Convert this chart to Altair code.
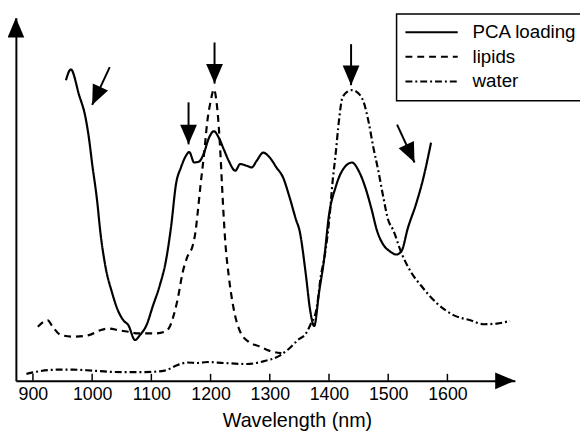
import altair as alt
import pandas as pd

# ---- data (wavelength in nm, intensity in arbitrary units) ----
series_names = ["PCA loading", "lipids", "water"]

pca_wl = [955.7, 964, 977.8, 989, 994.5, 1000, 1008.3, 1014, 1022.3, 1033.3, 1044.5, 1052.8,
          1061.2, 1072.3, 1080.7, 1091.7, 1102.8, 1114, 1125, 1133.3, 1141.7, 1150, 1158.3,
          1164, 1172.3, 1180.7, 1189, 1197.3, 1205.7, 1214, 1222.3, 1230.7, 1241.7, 1250,
          1261.2, 1269.5, 1277.8, 1289, 1300, 1311.2, 1322.3, 1333.3, 1344.5, 1350, 1361.2,
          1367.8, 1375, 1383.3, 1391.7, 1400, 1411.2, 1422.3, 1439, 1450, 1461.2, 1472.3,
          1480.7, 1491.7, 1502.8, 1514, 1522.3, 1533.3, 1547.3, 1558.3, 1572.3]
pca_val = [304.7, 315.7, 290, 266.3, 246.3, 220, 183, 150, 116.3, 90, 70, 61.3,
           56.3, 41.3, 46.3, 56.3, 76.3, 96.3, 123, 156.3, 199.7, 216.3, 228,
           232, 221.3, 222.3, 231.3, 246.3, 253, 246.3, 234.7, 223, 213, 219.7,
           218, 216.3, 223, 231.3, 226.3, 216.3, 206.3, 186.3, 163, 153, 106.3,
           73, 55.5, 90, 123, 168, 196.3, 213, 221.3, 213, 196.3, 173,
           153, 138, 131.3, 128, 131.3, 155, 179.7, 203, 241.3]

lipid_wl = [908.3, 925, 933.3, 947.3, 969.5, 994.5, 1014, 1027.8, 1044.5, 1061.2, 1077.8,
            1105.7, 1122.3, 1131.2, 1136, 1144.5, 1152.8, 1161.2, 1169.5, 1175, 1177.8,
            1183.3, 1189, 1194.5, 1200, 1205.7, 1210, 1214, 1216.7, 1219.5, 1222, 1225,
            1230.7, 1239, 1250, 1264, 1283.3, 1300, 1319.5]
lipid_val = [54.7, 61.3, 54.7, 46.3, 44.7, 46.3, 51.3, 53, 51.3, 49.7, 48,
             48, 49.7, 55, 63, 83, 109.7, 126.3, 136.3, 153, 168,
             199.7, 229.7, 263, 283, 295.5, 283, 256.3, 229.7, 196.3, 168, 139.7,
             106.3, 73, 49.7, 39.7, 34.7, 30.3, 28]

water_wl = [889, 911.2, 944.5, 966.7, 1000, 1033.3, 1066.7, 1100, 1122.3, 1144.5, 1161.2,
            1177.8, 1194.5, 1222.3, 1261.2, 1289, 1316.7, 1333.3, 1347.3, 1361.2, 1369.5,
            1377.8, 1380.7, 1386.2, 1391.7, 1397.3, 1401.2, 1405.7, 1411.2, 1416.7, 1422.3,
            1430.7, 1439, 1450, 1458.3, 1466.7, 1475, 1483.3, 1491.7, 1500, 1508.3, 1522.3,
            1539, 1555.7, 1583.3, 1611.2, 1639, 1661.2, 1683.3, 1705.7]
water_val = [7, 9.7, 11.3, 11.3, 10.3, 9, 8.7, 9, 10.3, 16, 18.5,
             18, 19, 18, 17, 19.7, 25.5, 33, 41.3, 48, 58,
             69.7, 79.7, 106.3, 123, 146.3, 168, 199.7, 229.7, 263, 286.3,
             293, 294.7, 291.3, 283, 263, 236.3, 213, 186.3, 163, 153, 129.7,
             109.7, 96.3, 78, 66.3, 61.3, 57.3, 58, 60.7]

tick_values = [900, 1000, 1100, 1200, 1300, 1400, 1500, 1600]

# annotation arrows: start (wl, val) -> tip (wl2, val2)
arrow_wl = [1029.7, 1162.8, 1206.7, 1437.3, 1515.0]
arrow_val = [318.0, 282.3, 343.0, 341.3, 259.7]
arrow_wl2 = [1000.0, 1162.8, 1206.7, 1437.3, 1544.5]
arrow_val2 = [279.7, 239.7, 301.3, 299.7, 221.3]
arrow_angle = [24.8, 0, 0, 0, 335.2]

x_domain = [871.2, 1714.0]
y_domain = [0, 368]

# axis arrow heads at the ends of the axes
axis_head_wl = [x_domain[0], x_domain[1]]
axis_head_val = [y_domain[1], y_domain[0]]
axis_head_angle = [180, 270]

# ---- frames ----
line_df = pd.concat([
    pd.DataFrame({"wl": pca_wl, "val": pca_val, "series": series_names[0]}),
    pd.DataFrame({"wl": lipid_wl, "val": lipid_val, "series": series_names[1]}),
    pd.DataFrame({"wl": water_wl, "val": water_val, "series": series_names[2]}),
], ignore_index=True)
tick_df = pd.DataFrame({"wl": tick_values})
arrow_df = pd.DataFrame({"wl": arrow_wl, "val": arrow_val, "wl2": arrow_wl2,
                         "val2": arrow_val2})
head_df = pd.DataFrame({"wl": arrow_wl2, "val": arrow_val2, "angle": arrow_angle})
axis_head_df = pd.DataFrame({"wl": axis_head_wl, "val": axis_head_val,
                             "angle": axis_head_angle})

FONT = "Liberation Sans"
HEAD = "M0,0 L-0.85,-2 L0.85,-2 Z"  # arrow head, tip at origin, pointing down

xscale = alt.Scale(domain=x_domain, nice=False, zero=False)
yscale = alt.Scale(domain=y_domain, nice=False, zero=False)

xaxis = alt.Axis(values=tick_values, format="d", labelFontSize=18, labelFont=FONT,
                 labelColor="black", labelPadding=5, ticks=False, tickSize=0,
                 domainColor="black", domainWidth=2, grid=False, labelFlush=False,
                 title="Wavelength (nm)", titleFontSize=20, titleFont=FONT,
                 titleFontWeight="normal", titleColor="black", titleX=285, titleY=46,
                 titleBaseline="alphabetic", titleAlign="center")
yaxis = alt.Axis(labels=False, ticks=False, grid=False, title=None,
                 domainColor="black", domainWidth=2)

lines = alt.Chart(line_df).mark_line(color="black", strokeWidth=2.2,
                                     interpolate="monotone").encode(
    x=alt.X("wl:Q", scale=xscale, axis=xaxis),
    y=alt.Y("val:Q", scale=yscale, axis=yaxis),
    strokeDash=alt.StrokeDash(
        "series:N",
        scale=alt.Scale(domain=series_names, range=[[1, 0], [7, 5], [7, 3, 2, 3]]),
        legend=alt.Legend(orient="none", legendX=386, legendY=-4, title=None,
                          strokeColor="black", padding=9,
                          symbolType="M-1.9,0 H8.7", symbolSize=100,
                          symbolStrokeWidth=2, symbolStrokeColor="black",
                          labelFont=FONT, labelFontSize=19, labelColor="black",
                          labelOffset=49, rowPadding=5),
    ),
)

ticks = alt.Chart(tick_df).mark_rule(color="black", strokeWidth=1.5).encode(
    x=alt.X("wl:Q", scale=xscale),
    y=alt.value(361), y2=alt.value(368),
)

shafts = alt.Chart(arrow_df).mark_rule(color="black", strokeWidth=2).encode(
    x=alt.X("wl:Q", scale=xscale), y=alt.Y("val:Q", scale=yscale),
    x2="wl2:Q", y2="val2:Q",
)

heads = alt.Chart(head_df).mark_point(shape=HEAD, size=400, filled=True, color="black",
                                      opacity=1, strokeWidth=0).encode(
    x=alt.X("wl:Q", scale=xscale), y=alt.Y("val:Q", scale=yscale),
    angle=alt.Angle("angle:Q", scale=None),
)

axis_heads = alt.Chart(axis_head_df).mark_point(shape=HEAD, size=400, filled=True,
                                                color="black", opacity=1,
                                                strokeWidth=0).encode(
    x=alt.X("wl:Q", scale=xscale), y=alt.Y("val:Q", scale=yscale),
    angle=alt.Angle("angle:Q", scale=None),
)

chart = alt.layer(lines, ticks, shafts, heads, axis_heads).properties(
    width=506, height=368,
    autosize=alt.AutoSizeParams(type="none"),
    padding={"left": 8, "top": 7, "right": 66, "bottom": 51},
    background="white",
).configure_view(stroke=None).configure_legend(strokeWidth=1.5)

chart.save("out.html", embed_options={"renderer": "svg", "actions": False})
